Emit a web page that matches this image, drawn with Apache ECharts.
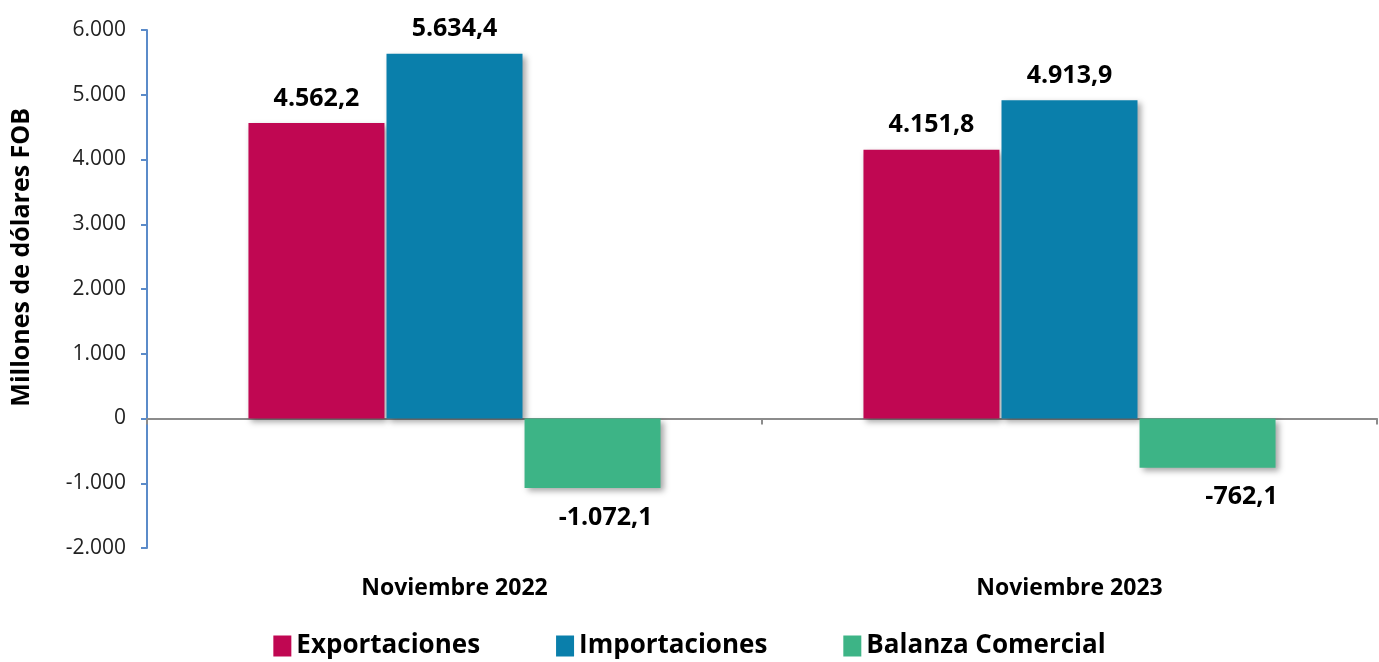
<!DOCTYPE html>
<html>
<head>
<meta charset="utf-8">
<script src="https://cdn.jsdelivr.net/npm/echarts@6/dist/echarts.min.js"></script>
<style>
  html, body { margin: 0; padding: 0; background: #fff; }
  #chart { width: 1379px; height: 662px; }
</style>
</head>
<body>
<div id="chart"></div>
<script>
// datos
var categorias = ['Noviembre 2022', 'Noviembre 2023'];
var exportaciones = [4562.2, 4151.8];
var importaciones = [5634.4, 4913.9];
var balanza = [-1072.1, -762.1];
var yTicks = { min: -2000, max: 6000, interval: 1000 };

var fuente = '"Open Sans", sans-serif';

function miles(v) {
    var s = Math.abs(v).toFixed(0).replace(/\B(?=(\d{3})+(?!\d))/g, '.');
    return (v < 0 ? '-' : '') + s;
}
function etiqueta(v) {
    var partes = Math.abs(v).toFixed(1).split('.');
    var ent = partes[0].replace(/\B(?=(\d{3})+(?!\d))/g, '.');
    return (v < 0 ? '-' : '') + ent + ',' + partes[1];
}

var chartDom = document.getElementById('chart');
var chart = echarts.init(chartDom);

var sombra = {
    shadowBlur: 6,
    shadowOffsetX: 3,
    shadowOffsetY: 3,
    shadowColor: 'rgba(0,0,0,0.35)'
};

function serie(nombre, datos, color, distancia) {
    return {
        name: nombre,
        type: 'bar',
        data: datos,
        barWidth: 136,
        barGap: '1.5%',
        itemStyle: Object.assign({ color: color }, sombra),
        label: {
            show: true,
            position: 'outside',
            distance: distancia,
            color: '#000',
            fontFamily: fuente,
            fontWeight: 'bold',
            fontSize: 25,
            formatter: function (p) { return etiqueta(p.value); }
        }
    };
}

var serieBalanza = serie('Balanza Comercial', balanza, '#3db486', 17);
// etiquetas negativas algo corridas a la derecha, como en el original
serieBalanza.data = balanza.map(function (v, i) {
    return { value: v, label: { offset: [[13, 0], [34, 0]][i] } };
});

var option = {
    animation: false,
    grid: {
        left: 147,
        right: 2,
        top: 30,
        bottom: 114,
        containLabel: false,
        outerBoundsMode: 'none'
    },
    legend: {
        bottom: -2,
        left: 'center',
        itemWidth: 18,
        itemHeight: 21,
        itemGap: 76,
        icon: 'rect',
        textStyle: {
            fontFamily: fuente,
            fontWeight: 'bold',
            fontSize: 26,
            color: '#000'
        },
        data: ['Exportaciones', 'Importaciones', 'Balanza Comercial']
    },
    graphic: [{
        type: 'text',
        left: 9,
        top: 108,
        rotation: Math.PI / 2,
        style: {
            text: 'Millones de dólares FOB',
            fontFamily: fuente,
            fontWeight: 'bold',
            fontSize: 25,
            fill: '#000'
        }
    }],
    xAxis: [{
        type: 'category',
        data: categorias,
        axisLine: { onZero: true, lineStyle: { color: '#8c8c8c', width: 2 } },
        axisTick: { show: true, length: 6, lineStyle: { color: '#8c8c8c', width: 2 } },
        axisLabel: { show: false }
    }, {
        type: 'category',
        data: categorias,
        position: 'bottom',
        axisLine: { show: false, onZero: false },
        axisTick: { show: false },
        axisLabel: {
            margin: 29,
            color: '#000',
            fontFamily: fuente,
            fontWeight: 'bold',
            fontSize: 23
        }
    }],
    yAxis: {
        type: 'value',
        min: yTicks.min,
        max: yTicks.max,
        interval: yTicks.interval,
        splitLine: { show: false },
        axisLine: { show: true, onZero: false, lineStyle: { color: '#5b8bc9', width: 2 } },
        axisTick: { show: true, length: 6, lineStyle: { color: '#5b8bc9', width: 2 } },
        axisLabel: {
            margin: 21,
            color: '#222',
            fontFamily: fuente,
            fontSize: 21,
            formatter: miles
        }
    },
    series: [
        serie('Exportaciones', exportaciones, '#c00752', 12),
        serie('Importaciones', importaciones, '#0a7fab', 12),
        serieBalanza
    ]
};
chart.setOption(option);
</script>
</body>
</html>
